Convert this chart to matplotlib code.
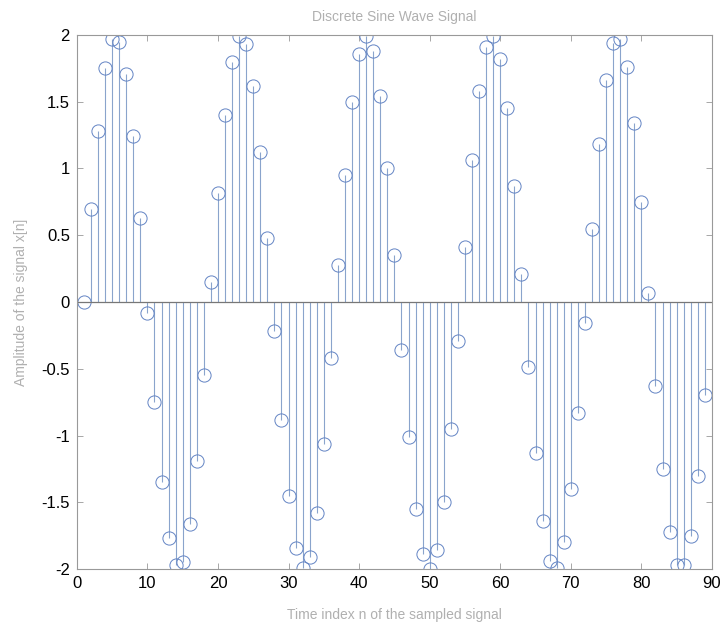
import matplotlib
matplotlib.use("Agg")
import matplotlib.pyplot as plt
import numpy as np

n = list(range(1, 90))
y = [0, 0.70, 1.28, 1.75, 1.97, 1.95, 1.71, 1.24, 0.63, -0.08,
     -0.75, -1.35, -1.77, -1.97, -1.95, -1.66, -1.19, -0.55, 0.15, 0.82,
     1.40, 1.80, 1.99, 1.93, 1.62, 1.12, 0.48, -0.22, -0.88, -1.45,
     -1.84, -1.99, -1.91, -1.58, -1.06, -0.42, 0.28, 0.95, 1.50, 1.86,
     1.99, 1.88, 1.54, 1.00, 0.35, -0.36, -1.01, -1.55, -1.89, -2.00,
     -1.86, -1.50, -0.95, -0.29, 0.41, 1.06, 1.58, 1.91, 1.99, 1.82,
     1.45, 0.87, 0.21, -0.49, -1.13, -1.64, -1.94, -1.99, -1.80, -1.40,
     -0.83, -0.16, 0.55, 1.18, 1.66, 1.94, 1.97, 1.76, 1.34, 0.75,
     0.07, -0.63, -1.25, -1.72, -1.97, -1.97, -1.75, -1.30, -0.70]

xticks = [0, 10, 20, 30, 40, 50, 60, 70, 80, 90]
yticks = [-2, -1.5, -1, -0.5, 0, 0.5, 1, 1.5, 2]
ytick_labels = ["-2", "-1.5", "-1", "-0.5", "0", "0.5", "1", "1.5", "2"]

title_text = "Discrete Sine Wave Signal"
xlabel_text = "Time index n of the sampled signal"
ylabel_text = "Amplitude of the signal x[n]"

plt.rcParams['font.family'] = ['Liberation Sans', 'DejaVu Sans']

fig = plt.figure(figsize=(7.25, 6.24), dpi=100)
ax = fig.add_axes([0.106, 0.088, 0.876, 0.856])

stem_color = '#8aa4cc'
marker_color = '#6384c4'
markerline, stemlines, baseline = ax.stem(n, y, basefmt='-')
plt.setp(stemlines, color=stem_color, linewidth=0.8)
plt.setp(markerline, marker='o', markersize=9.5, markerfacecolor='none',
         markeredgecolor=marker_color, markeredgewidth=0.7, linestyle='none')
plt.setp(baseline, color='#777777', linewidth=0.9)
baseline.set_xdata([0, 90])

ax.set_xlim(0, 90)
ax.set_ylim(-2, 2)
ax.set_xticks(xticks)
ax.set_yticks(yticks)
ax.set_yticklabels(ytick_labels)
ax.tick_params(direction='in', top=True, right=True, labelsize=12,
               length=4, width=0.6, color='#999999', pad=5)
for s in ax.spines.values():
    s.set_color('#999999')
    s.set_linewidth(0.8)

ax.set_title(title_text, fontsize=10, color='#b0b0b0', pad=10)
ax.set_xlabel(xlabel_text, fontsize=10, color='#b0b0b0', labelpad=12)
ax.set_ylabel(ylabel_text, fontsize=10, color='#b0b0b0', labelpad=10)

fig.savefig('out.png', dpi=100)
